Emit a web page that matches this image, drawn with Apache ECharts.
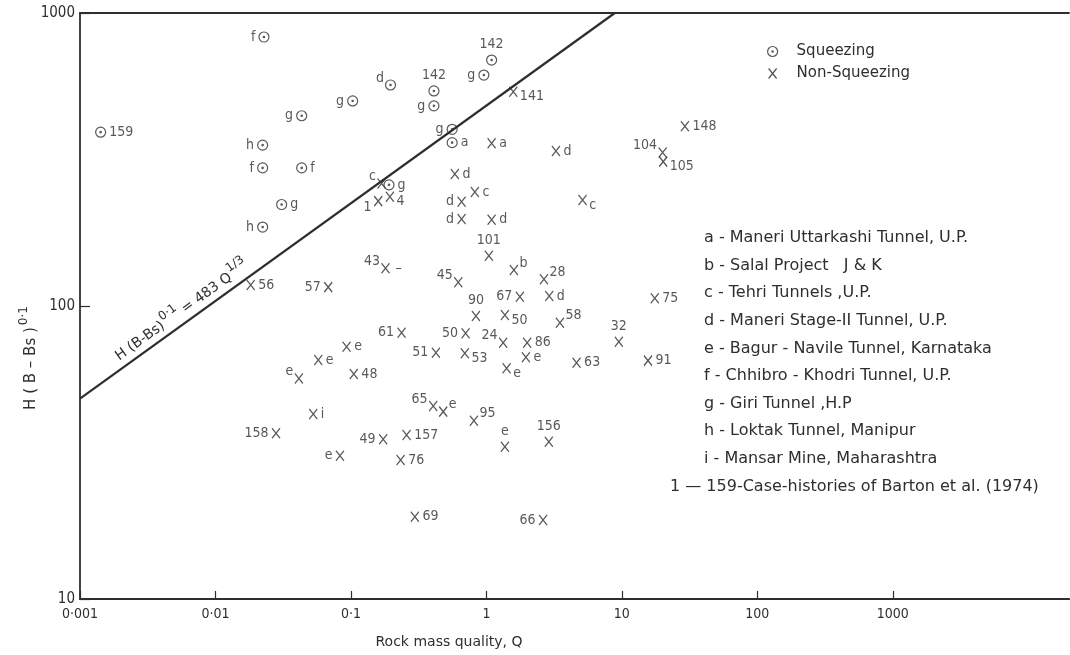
<!DOCTYPE html>
<html><head><meta charset="utf-8">
<script src="https://cdn.jsdelivr.net/npm/echarts@6/dist/echarts.min.js"></script>
<style>html,body{margin:0;padding:0;background:#fff}#c{width:1070px;height:655px}</style>
</head><body><div id="c"></div>
<script>
// ---------- axis ticks ----------
const xTickValues = [0.001, 0.01, 0.1, 1, 10, 100, 1000];
const xTickLabels = ['0·001', '0·01', '0·1', '1', '10', '100', '1000'];
const yTickValues = [10, 100, 1000];
const yTickLabels = ['10', '100', '1000'];

// ---------- criterion line H(B-Bs)^0.1 = 483 Q^1/3 (end points) ----------
const lineQ = [0.001, 8.87];
const lineH = [48.3, 1000];

// ---------- Squeezing cases ----------
const sqQ = [0.0228, 0.00142, 0.0433, 0.103, 0.0223, 0.0223, 0.0433, 0.0308, 0.0223, 0.196, 0.41, 0.41, 1.093, 0.958, 0.559, 0.559, 0.191];
const sqH = [828, 392, 446, 501, 354, 296, 296, 222, 186, 568, 542, 482, 691, 614, 401, 361, 259];
const sqLabel = ['f', '159', 'g', 'g', 'h', 'f', 'f', 'g', 'h', 'd', '142', 'g', '142', 'g', 'g', 'a', 'g'];

// ---------- Non-squeezing cases ----------
const nsQ = [0.0182, 0.068, 1.58, 1.093, 3.26, 0.1684, 0.159, 0.194, 0.585, 0.822, 0.656, 0.656, 1.093, 1.043, 0.18, 0.62, 1.596, 2.66, 1.767, 2.91, 0.837,
  29.2, 20.0, 20.2, 5.13, 17.5, 1.37, 3.49, 9.5, 0.2366, 0.702, 1.33, 2.0, 1.957, 0.0929, 0.0574, 0.0413, 0.105, 0.424, 0.693, 1.41, 4.63, 15.6,
  0.0527, 0.405, 0.48, 0.809, 0.028, 0.173, 0.2576, 0.083, 0.2327, 1.37, 2.89, 0.2965, 2.62];
const nsH = [118, 116, 539, 359, 338, 262, 228, 236, 282, 245, 227, 198, 197, 148.5, 134.5, 120.5, 132.7, 123.4, 107.6, 108.2, 92.4,
  411, 334, 311, 230, 106.2, 93.2, 87.7, 75.5, 81, 80.7, 74.9, 74.9, 66.8, 72.6, 65.4, 56.6, 58.6, 69.3, 69.0, 61.3, 64.0, 65.1,
  42.8, 45.6, 43.6, 40.6, 36.8, 35.1, 36.3, 30.8, 29.8, 33.1, 34.4, 19.1, 18.6];
const nsLabel = ['56', '57', '141', 'a', 'd', 'c', '1', '4', 'd', 'c', 'd', 'd', 'd', '101', '43', '45', 'b', '28', '67', 'd', '90',
  '148', '104', '105', 'c', '75', '50', '58', '32', '61', '50', '24', '86', 'e', 'e', 'e', 'e', '48', '51', '53', 'e', '63', '91',
  'i', '65', 'e', '95', '158', '49', '157', 'e', '76', 'e', '156', '69', '66'];

// extra dash printed beside case 43
const dashQ = [0.18];
const dashH = [134.5];
const dashLabel = ['–'];

// ---------- key text ----------
const keyLines = [
  'a - Maneri Uttarkashi Tunnel, U.P.',
  'b - Salal Project   J & K',
  'c - Tehri Tunnels ,U.P.',
  'd - Maneri Stage-II Tunnel, U.P.',
  'e - Bagur - Navile Tunnel, Karnataka',
  'f - Chhibro - Khodri Tunnel, U.P.',
  'g - Giri Tunnel ,H.P',
  'h - Loktak Tunnel, Manipur',
  'i - Mansar Mine, Maharashtra'
];
const keyLast = '1 — 159-Case-histories of Barton et al. (1974)';

// ---------- label placement (layout only) ----------
const sqSide = ['L', 'R', 'L', 'L', 'L', 'L', 'R', 'R', 'L', 'TL', 'T', 'L', 'T', 'L', 'L', 'R', 'R'];
const nsSide = ['R', 'L', 'BR', 'R', 'R', 'TL', 'BL', 'BR', 'R', 'R', 'L', 'L', 'R', 'T', 'TL', 'TL', 'TR', 'TR', 'L', 'R', 'T',
  'R', 'TL', 'BR', 'BR', 'R', 'BR', 'TR', 'T', 'L', 'L', 'TL', 'R', 'R', 'R', 'R', 'TL', 'R', 'L', 'BR', 'BR', 'R', 'R',
  'R', 'TL', 'TR', 'TR', 'L', 'L', 'R', 'L', 'R', 'T', 'T', 'R', 'L'];

const INK = '#2e2e2e';
const FONT = '"DejaVu Sans Condensed", "DejaVu Sans", sans-serif';
const FONT2 = '"DejaVu Sans", sans-serif';
const circDot = 'path://M10,5A5,5,0,1,1,0,5A5,5,0,1,1,10,5ZM5.7,5A0.7,0.7,0,1,1,4.3,5A0.7,0.7,0,1,1,5.7,5Z';
const xMark = 'path://M0,0L8,10M8,0L0,10';

const SIDES = {
  L: {position: 'left', offset: [0, 0]},
  R: {position: 'right', offset: [0, 0]},
  T: {position: 'top', offset: [0, 0]},
  TL: {position: 'left', offset: [2, -7]},
  TR: {position: 'right', offset: [-2, -7]},
  BR: {position: 'right', offset: [-1, 5]},
  BL: {position: 'left', offset: [1, 6]}
};
function pts(qs, hs, labs, sides) {
  return qs.map((q, i) => {
    const s = SIDES[sides ? sides[i] : 'R'];
    return {value: [q, hs[i]], label: {show: true, formatter: labs[i], position: s.position, offset: s.offset, distance: 3}};
  });
}
const labelStyle = {color: INK, fontSize: 14, fontFamily: FONT};

const chart = echarts.init(document.getElementById('c'), null, {renderer: 'canvas'});
chart.setOption({
  animation: false,
  backgroundColor: '#ffffff',
  grid: {left: 80, right: 1, top: 13, bottom: 56},
  xAxis: [{
    type: 'log', min: 0.001, max: 20000, position: 'bottom',
    axisLine: {show: true, lineStyle: {color: INK, width: 2.2}},
    axisTick: {show: true, inside: true, length: 8, customValues: xTickValues, lineStyle: {color: INK, width: 1.2}},
    minorTick: {show: false},
    axisLabel: {show: true, customValues: xTickValues, margin: 8, color: INK, fontSize: 14, fontFamily: FONT,
      formatter: v => xTickLabels[Math.round(Math.log10(v)) + 3]},
    splitLine: {show: false}
  }, {
    type: 'log', min: 0.001, max: 20000, position: 'top',
    axisLine: {show: true, lineStyle: {color: INK, width: 1.8}},
    axisTick: {show: false}, axisLabel: {show: false}, splitLine: {show: false}
  }],
  yAxis: {
    type: 'log', min: 10, max: 1000,
    axisLine: {show: true, lineStyle: {color: INK, width: 1.8}},
    axisTick: {show: true, inside: true, length: 10, customValues: yTickValues, lineStyle: {color: INK, width: 1.2}},
    minorTick: {show: false},
    axisLabel: {show: true, customValues: yTickValues, margin: 5, color: INK, fontSize: 15, fontFamily: FONT,
      formatter: v => yTickLabels[Math.round(Math.log10(v)) - 1]},
    splitLine: {show: false}
  },
  legend: {
    orient: 'vertical', left: 762, top: 39, itemWidth: 10, itemHeight: 10, itemGap: 7,
    selectedMode: false,
    textStyle: {color: INK, fontSize: 15, fontFamily: FONT2, padding: [0, 0, 0, 14]},
    data: [
      {name: 'Squeezing', icon: circDot, itemStyle: {color: 'transparent', borderColor: INK, borderWidth: 1.2}},
      {name: 'Non-Squeezing', icon: xMark, itemStyle: {color: 'transparent', borderColor: INK, borderWidth: 1.3}}
    ]
  },
  series: [{
    name: 'criterion', type: 'line', silent: true, z: 1,
    data: lineQ.map((q, i) => [q, lineH[i]]),
    symbol: 'none', lineStyle: {color: INK, width: 2.2}
  }, {
    name: 'Squeezing', type: 'scatter', symbol: circDot, symbolSize: 10, z: 3,
    itemStyle: {color: 'transparent', borderColor: INK, borderWidth: 1.2},
    label: labelStyle, emphasis: {disabled: true},
    data: pts(sqQ, sqH, sqLabel, sqSide)
  }, {
    name: 'Non-Squeezing', type: 'scatter', symbol: xMark, symbolSize: [8, 10], z: 3,
    itemStyle: {color: 'transparent', borderColor: INK, borderWidth: 1.3},
    label: labelStyle, emphasis: {disabled: true},
    data: pts(nsQ, nsH, nsLabel, nsSide)
  }, {
    name: 'dash', type: 'scatter', symbol: 'circle', symbolSize: 0.1, z: 3, silent: true,
    itemStyle: {color: 'transparent'},
    label: Object.assign({}, labelStyle, {show: true, position: 'right', distance: 10}),
    emphasis: {disabled: true},
    data: dashQ.map((q, i) => ({value: [q, dashH[i]], label: {formatter: dashLabel[i]}}))
  }],
  graphic: [
    {type: 'text', x: 31, y: 358, rotation: Math.PI / 2, silent: true,
      style: {text: '{m|H ( B – Bs )}{s|0·1}', align: 'center', verticalAlign: 'middle', fill: INK,
        rich: {m: {fontSize: 15, fontFamily: FONT2, fill: INK, lineHeight: 24},
               s: {fontSize: 12, fontFamily: FONT2, fill: INK, lineHeight: 24, padding: [0, 0, 14, 2]}}}},
    {type: 'text', x: 449, y: 642, silent: true,
      style: {text: 'Rock mass quality, Q', align: 'center', verticalAlign: 'middle', fill: INK, font: '14px ' + FONT2}},
    {type: 'text', x: 182, y: 311, rotation: 35.8 * Math.PI / 180, silent: true,
      style: {text: '{m|H (B-Bs)}{s|0·1}{m| = 483 Q}{s|1/3}', align: 'center', verticalAlign: 'middle', fill: INK,
        rich: {m: {fontSize: 14, fontFamily: FONT2, fill: INK, lineHeight: 24},
               s: {fontSize: 12, fontFamily: FONT2, fill: INK, lineHeight: 24, padding: [0, 0, 14, 1]}}}}
  ].concat(keyLines.map((t, i) => ({
    type: 'text', x: 704, y: 238 + i * 27.6, silent: true,
    style: {text: t, align: 'left', verticalAlign: 'middle', fill: INK, font: '16px ' + FONT2}
  }))).concat([{
    type: 'text', x: 670, y: 238 + 9 * 27.6, silent: true,
    style: {text: keyLast, align: 'left', verticalAlign: 'middle', fill: INK, font: '16px ' + FONT2}
  }])
});
</script></body></html>
